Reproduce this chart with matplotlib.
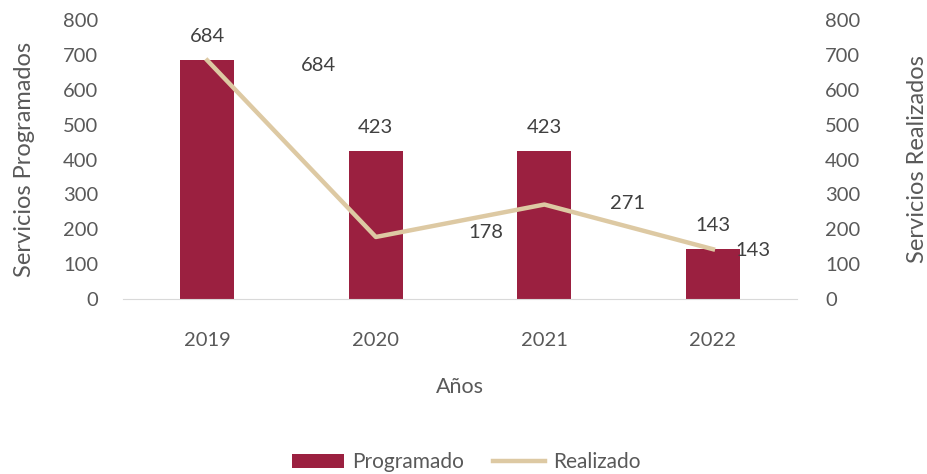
import matplotlib.pyplot as plt
import numpy as np

anios = ["2019", "2020", "2021", "2022"]
programado = [684, 423, 423, 143]
realizado = [684, 178, 271, 143]

# desplazamiento (px) de las etiquetas de la linea, como en el original
offsets_realizado = [(111, -5), (110, 4), (83, 1), (40, -1)]

plt.rcParams['font.family'] = ['Lato', 'DejaVu Sans']
gris = "#595959"
rojo = "#9B2040"
beige = "#DDC9A3"

fig = plt.figure(figsize=(9.27, 4.74), dpi=100)
ax = fig.add_axes([0.1327, 0.369, 0.7273, 0.589])
ax2 = ax.twinx()

x = np.arange(len(anios))
ax.bar(x, programado, width=0.32, color=rojo, label="Programado", zorder=2)
ax2.plot(x, realizado, color=beige, linewidth=3.2, label="Realizado", zorder=3)

for xi, v in zip(x, programado):
    ax.annotate(str(v), (xi, v), xytext=(0, 24), textcoords="offset pixels",
                ha="center", va="center", fontsize=14.5, color="#404040")
for xi, v, off in zip(x, realizado, offsets_realizado):
    ax2.annotate(str(v), (xi, v), xytext=off, textcoords="offset pixels",
                 ha="center", va="center", fontsize=14.5, color="#404040")

for a in (ax, ax2):
    a.set_ylim(0, 800)
    a.set_yticks(range(0, 801, 100))
    a.tick_params(axis="y", length=0, labelsize=14.5, labelcolor=gris, pad=18)
    for s in ["top", "left", "right"]:
        a.spines[s].set_visible(False)
    a.spines["bottom"].set_color("#D9D9D9")
ax2.spines["bottom"].set_visible(False)
ax2.tick_params(axis="y", pad=20)

ax.set_xlim(-0.5, 3.5)
ax.set_xticks(x)
ax.set_xticklabels(anios)
ax.tick_params(axis="x", length=0, labelsize=14.5, labelcolor=gris, pad=24)

ax.set_xlabel("Años", fontsize=15.5, color=gris, labelpad=20)
ax.set_ylabel("Servicios Programados", fontsize=17, color=gris, labelpad=20)
ax2.set_ylabel("Servicios Realizados", fontsize=17, color=gris, labelpad=34)

h1, l1 = ax.get_legend_handles_labels()
h2, l2 = ax2.get_legend_handles_labels()
fig.legend(h1 + h2, l1 + l2, loc="lower center", bbox_to_anchor=(0.503, -0.036),
           ncol=2, frameon=False, fontsize=15, labelcolor=gris,
           handlelength=2.5, handleheight=0.6, columnspacing=1.4, handletextpad=0.4)

fig.savefig("out.png", dpi=100)
